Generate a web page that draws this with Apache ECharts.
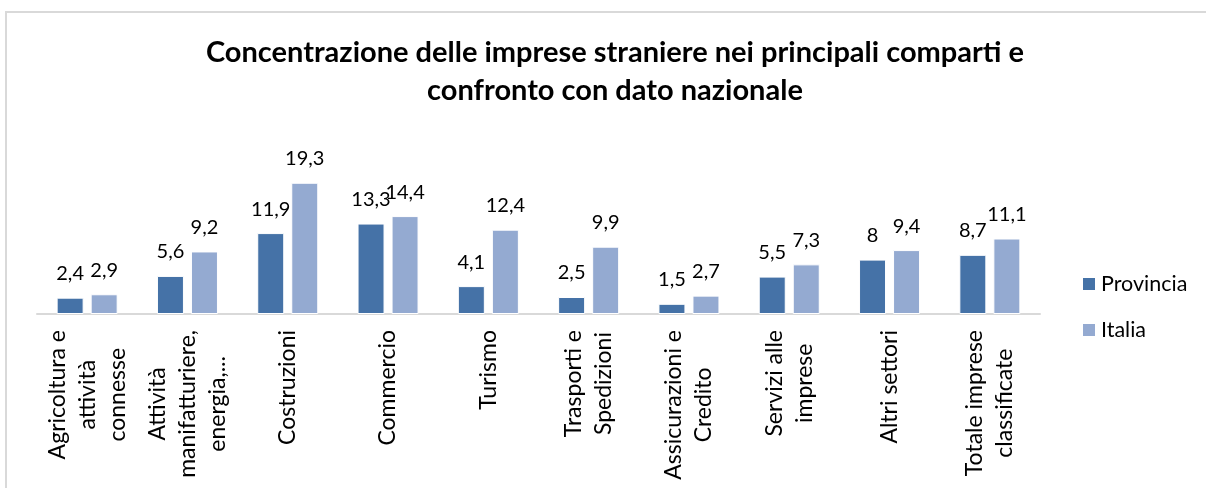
<!DOCTYPE html>
<html>
<head>
    <meta charset="utf-8">
    <title>Concentrazione delle imprese straniere</title>
    <script src="https://cdn.jsdelivr.net/npm/echarts@6/dist/echarts.min.js"></script>
    <style>
        html, body { margin: 0; padding: 0; background: #fff; }
        #chart { width: 1206px; height: 488px; }
    </style>
</head>
<body>
    <div id="chart"></div>
    <script>
        // categorie (con gli a capo come nel grafico originale)
        var categorie = [
            'Agricoltura e\nattività\nconnesse',
            'Attività\nmanifatturiere,\nenergia,...',
            'Costruzioni',
            'Commercio',
            'Turismo',
            'Trasporti e\nSpedizioni',
            'Assicurazioni e\nCredito',
            'Servizi alle\nimprese',
            'Altri settori',
            'Totale imprese\nclassificate'
        ];
        var provincia = [2.4, 5.6, 11.9, 13.3, 4.1, 2.5, 1.5, 5.5, 8, 8.7];
        var italia = [2.9, 9.2, 19.3, 14.4, 12.4, 9.9, 2.7, 7.3, 9.4, 11.1];

        var font = 'Lato, "Open Sans", sans-serif';
        var catSize = 23;

        // le etichette hanno le righe centrate ma il blocco parte subito sotto l'asse:
        // un asse per categoria, con margin = 16 + meta' della riga piu' lunga
        var ctx = document.createElement('canvas').getContext('2d');
        ctx.font = catSize + 'px ' + font;
        var xAxes = categorie.map(function (c, k) {
            var w = 0;
            c.split('\n').forEach(function (r) {
                w = Math.max(w, ctx.measureText(r).width);
            });
            return {
                type: 'category',
                position: 'bottom',
                offset: 0,
                data: categorie,
                axisTick: { show: false },
                axisLine: { show: k === 0, lineStyle: { color: '#d9d9d9', width: 2 } },
                splitLine: { show: false },
                axisLabel: {
                    interval: 0,
                    rotate: 90,
                    align: 'center',
                    margin: 16 + w / 2,
                    fontFamily: font,
                    fontSize: catSize,
                    lineHeight: 30,
                    color: '#000',
                    formatter: function (v, i) { return i === k ? v : ''; }
                }
            };
        });

        function virgola(p) {
            return String(p.value).replace('.', ',');
        }

        var myChart = echarts.init(document.getElementById('chart'));
        var option = {
            animation: false,
            textStyle: { fontFamily: font },
            title: {
                text: 'Concentrazione delle imprese straniere nei principali comparti e\nconfronto con dato nazionale',
                left: 610,
                top: 29,
                textAlign: 'center',
                textStyle: {
                    fontFamily: font,
                    fontWeight: 'bold',
                    fontSize: 29,
                    lineHeight: 38,
                    color: '#000'
                }
            },
            graphic: [{
                type: 'rect',
                shape: { x: 6, y: 12, width: 1300, height: 600 },
                style: { fill: 'none', stroke: '#d9d9d9', lineWidth: 2 },
                silent: true
            }],
            legend: {
                orient: 'vertical',
                left: 1081,
                top: 273,
                padding: 0,
                itemWidth: 14,
                itemHeight: 14,
                itemGap: 24,
                icon: 'rect',
                textStyle: { fontFamily: font, fontSize: 21.5, color: '#000' },
                data: ['Provincia', 'Italia']
            },
            grid: {
                left: 37,
                right: 166,
                top: 178,
                bottom: 174,
                outerBoundsMode: 'none'
            },
            xAxis: xAxes,
            yAxis: {
                type: 'value',
                min: 0,
                max: 20,
                show: false,
                splitLine: { show: false }
            },
            series: [
                {
                    name: 'Provincia',
                    type: 'bar',
                    data: provincia,
                    barWidth: 27,
                    barGap: '26%',
                    itemStyle: { color: '#4572a7', borderColor: '#fff', borderWidth: 1 },
                    label: {
                        show: true,
                        position: 'top',
                        distance: 14,
                        formatter: virgola,
                        fontFamily: font,
                        fontSize: 20,
                        color: '#000'
                    }
                },
                {
                    name: 'Italia',
                    type: 'bar',
                    data: italia,
                    barWidth: 27,
                    itemStyle: { color: '#94aad1', borderColor: '#fff', borderWidth: 1 },
                    label: {
                        show: true,
                        position: 'top',
                        distance: 14,
                        formatter: virgola,
                        fontFamily: font,
                        fontSize: 20,
                        color: '#000'
                    }
                }
            ]
        };
        myChart.setOption(option);
    </script>
</body>
</html>
